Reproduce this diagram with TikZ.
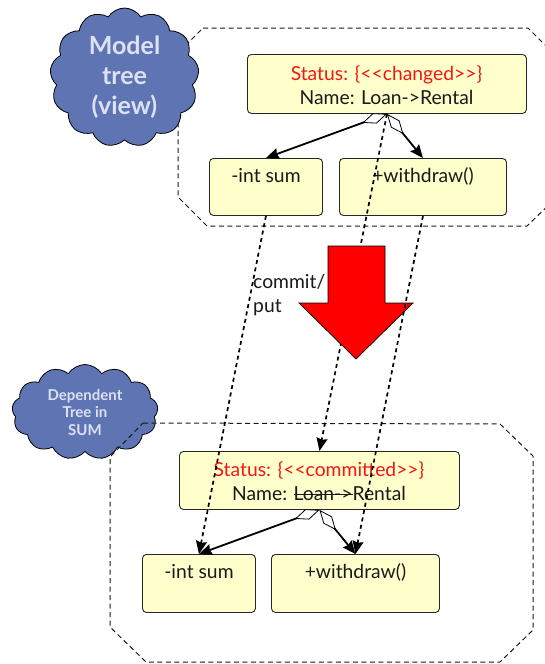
\documentclass[tikz,border=0pt]{standalone}
\usepackage{fontspec}
\setmainfont{Lato}[Ligatures=TeXOff]
\usetikzlibrary{shapes.symbols, arrows.meta, calc}

\definecolor{boxfill}{HTML}{FFFFCC}
\definecolor{cloudblue}{HTML}{5E74B3}
\definecolor{cloudtext}{HTML}{DCE2F4}
\definecolor{statusred}{HTML}{F21616}

% struck-through text
\newsavebox{\strkbox}
\newcommand{\strk}[1]{\sbox{\strkbox}{#1}\rlap{\raisebox{0.27em}{\rule{\wd\strkbox}{0.07em}}}\usebox{\strkbox}}

\begin{document}
\begin{tikzpicture}[x=1pt, y=-1pt,
  umlbox/.style={draw=black!85, line width=0.9pt, fill=boxfill,
    rounded corners=4pt, inner sep=0pt, anchor=north west},
  txt/.style={font=\fontsize{19.3}{24}\selectfont, text=black!90, inner sep=0pt},
  treecloud/.style={cloud, cloud puffs=13, cloud puff arc=115, aspect=1,
    cloud ignores aspect, fill=cloudblue, draw=black, line width=0.8pt,
    inner sep=0pt, align=center, text=cloudtext},
  region/.style={draw=black!90, line width=1pt, dash pattern=on 5pt off 3.5pt},
  compose/.style={line width=1.8pt,
    {Diamond[fill=white, length=26pt, width=11pt, line width=0.8pt]}-{Stealth[length=13pt, width=11pt, inset=1.5pt]}},
  flow/.style={line width=1.7pt, dash pattern=on 4pt off 3.5pt,
    -{Stealth[length=13pt, width=11pt, inset=1.5pt]}}
]
\useasboundingbox (0,0) rectangle (545,664);
\clip (0,0) rectangle (545,664);

% upper region (model tree)
\draw[region] (203,28) -- (528,28) -- (556,56) -- (556,198) -- (527,226)
  -- (207,226) -- (178,197) -- (178,53) -- cycle;
\node[treecloud, minimum width=149pt, minimum height=139pt,
  font=\bfseries\fontsize{25}{30}\selectfont] (mt) at (124.5,77.5)
  {Model\\tree\\(view)};

% upper classes
\node[umlbox, minimum width=279pt, minimum height=59pt] (tc) at (247,54) {};
\node[txt, align=center] (tct) at (386.5,85) {{\color{statusred}Status: \{<<changed>>\}}\\Name: Loan->Rental};
\node[umlbox, minimum width=113pt, minimum height=57pt] (ts) at (209,158) {};
\node[txt] (tst) at ($(ts.north)+(0,18)$) {-int sum};
\node[umlbox, minimum width=167pt, minimum height=57pt] (tw) at (339,158) {};
\node[txt] (twt) at ($(tw.north)+(0,18)$) {+withdraw()};

% lower cloud and region
\node[treecloud, minimum width=146pt, minimum height=95pt,
  font=\bfseries\fontsize{15}{17.5}\selectfont] (dt) at (85,412)
  {Dependent\\Tree in\\SUM};
\draw[region] (143,423) -- (500,424) -- (533,456) -- (533,630) -- (500,662)
  -- (146,662) -- (110,627) -- (110,457) -- cycle;

% lower classes
\node[umlbox, minimum width=280pt, minimum height=58pt] (bc) at (179,451) {};
\node[txt, align=center] (bct) at (319,481) {{\color{statusred}Status: \{<<committed>>\}}\\Name: \strk{Loan->}Rental};
\node[umlbox, minimum width=113pt, minimum height=58pt] (bs) at (142,554) {};
\node[txt] (bst) at ($(bs.north)+(0,18)$) {-int sum};
\node[umlbox, minimum width=168pt, minimum height=58pt] (bw) at (271,554) {};
\node[txt] (bwt) at ($(bw.north)+(0,18)$) {+withdraw()};

% compositions
\draw[compose] (tc.south) -- (ts.north);
\draw[compose] (tc.south) -- (tw.north);
\draw[compose] (bc.south) -- (bs.north);
\draw[compose] (bc.south) -- (bw.north);

% commit / put flows
\node[txt, align=left, anchor=west] (cp) at (253,295) {commit/\\put};
\draw[flow] (ts.south) -- (bs.north);
\draw[flow] (tc.south) -- (bc.north);
\draw[fill=red, draw=black, line width=0.7pt] (328,246) -- (385,246) -- (385,303)
  -- (413,303) -- (356,359) -- (299,303) -- (328,303) -- cycle;
\draw[flow] (tw.south) -- (bw.north);
\end{tikzpicture}
\end{document}
